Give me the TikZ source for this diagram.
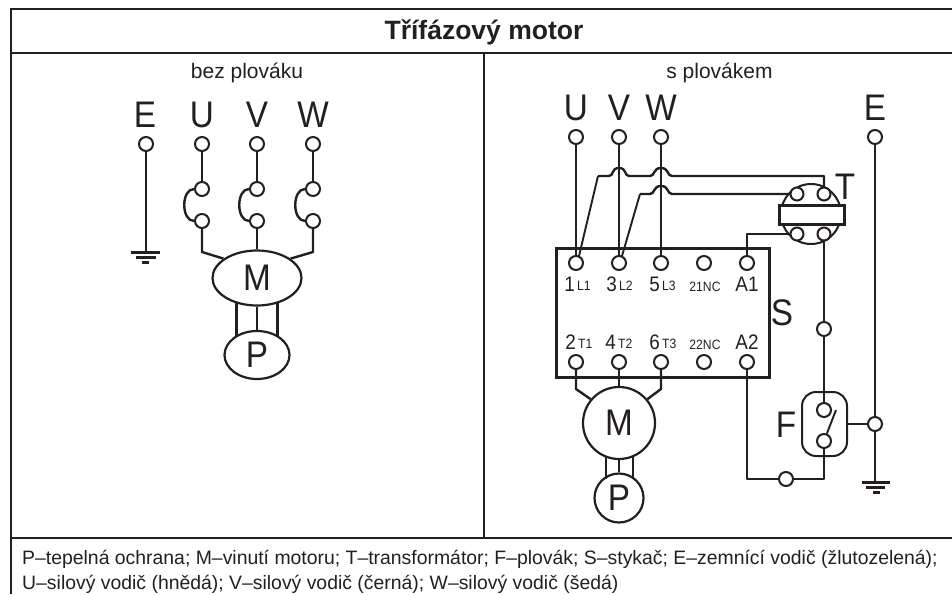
\documentclass[tikz,border=0pt]{standalone}
\usepackage{fontspec}
\setmainfont{Liberation Sans}
\newfontfamily\narrowfont[FakeStretch=0.9]{Liberation Sans}
\usetikzlibrary{shapes.geometric}
\usetikzlibrary{positioning}
\definecolor{ink}{HTML}{231F20}
\tikzset{
    wire/.style={draw=ink,line width=2.4pt,line join=round},
    thin wire/.style={draw=ink,line width=1.9pt,line join=round},
    frame/.style={draw=ink,line width=2.2pt},
    terminal/.style={circle,draw=ink,fill=white,line width=2pt,minimum size=14pt,inner sep=0pt},
    big/.style={text=ink,inner sep=0pt,font=\narrowfont\fontsize{37}{37}\selectfont},
    digit/.style={text=ink,inner sep=0pt,font=\narrowfont\fontsize{21}{21}\selectfont},
    small/.style={text=ink,inner sep=0pt,font=\narrowfont\fontsize{13.5}{13.5}\selectfont},
    motor/.style={draw=ink,line width=2.2pt,fill=white,inner sep=0pt,text=ink,font=\narrowfont\fontsize{37}{37}\selectfont},
}
\begin{document}
\begin{tikzpicture}[x=1pt,y=-1pt]
    \useasboundingbox (0,0) rectangle (952,594);
    % frame
    \coordinate (tl) at (11,9);
    \coordinate (tr) at (952,9);
    \coordinate (bl) at (11,594);
    \draw[frame] (bl) -- (tl) -- (tr);
    \draw[frame] (11,53) -- (952,53);
    \draw[frame] (11,538) -- (952,538);
    \draw[frame] (484,53) -- (484,538);
    \node[text=ink,font=\fontsize{26.5}{26.5}\selectfont\bfseries] (title) at (484,32) {Třífázový motor};
    \node[text=ink,font=\fontsize{21}{21}\selectfont] (leftcap) at (247,73) {bez plováku};
    \node[text=ink,font=\fontsize{21}{21}\selectfont] (rightcap) at (719.5,73) {s plovákem};
    \node[text=ink,anchor=west,align=left,inner sep=0pt,font=\fontsize{19.4}{25}\selectfont] (legend) at (22,572)
        {P–tepelná ochrana; M–vinutí motoru; T–transformátor; F–plovák; S–stykač; E–zemnící vodič (žlutozelená);\\
         U–silový vodič (hnědá); V–silový vodič (černá); W–silový vodič (šedá)};

    % bez plovaku
    \node[big] (le) at (145,115) {E};
    \node[terminal] (lea) at (146,144) {};
    \coordinate (lgnd) at (146,252);
    \draw[wire] (lea) -- (lgnd);
    \draw[wire,line width=3pt] (131,252) -- (160,252);
    \draw[wire,line width=3pt] (136,257.5) -- (156,257.5);
    \draw[wire,line width=3pt] (142,262.5) -- (149,262.5);
    \node[motor,ellipse,minimum width=89pt,minimum height=55pt] (lm) at (257,278) {M};
    \node[motor,ellipse,minimum width=65pt,minimum height=48pt] (lp) at (257,355) {P};
    \foreach \n/\l/\x in {u/U/202,v/V/257,w/W/313}{
        \node[big] (l\n) at (\x,115) {\l};
        \node[terminal] (l\n a) at (\x,144) {};
        \node[terminal] (l\n b) at (\x,189) {};
        \node[terminal] (l\n c) at (\x,221) {};
        \draw[wire] (l\n a) -- (l\n b);
        \draw[wire] (l\n b.west) .. controls +(-13,0) and +(-13,0) .. (l\n c.west);
    }
    \coordinate (lbu) at (202,252);
    \coordinate (lbw) at (313,252);
    \draw[wire] (luc) -- (lbu) -- (lm.150);
    \draw[wire] (lvc) -- (lm.north);
    \draw[wire] (lwc) -- (lbw) -- (lm.30);
    \draw[wire] (lm.south) -- (lp.north);
    \draw[wire,line width=3pt] (236,302) -- (236,337);
    \draw[wire,line width=3pt] (277,302) -- (277,337);

    % s plovakem
    \draw[frame,line width=3pt] (556,248) rectangle (769,377);
    \node[big] (re) at (875,108) {E};
    \node[terminal] (rea) at (875,137) {};
    \node[terminal] (rej) at (875,424) {};
    \coordinate (rgnd) at (875,482);
    \draw[wire] (rea) -- (rej) -- (rgnd);
    \draw[wire,line width=3pt] (862,482) -- (890,482);
    \draw[wire,line width=3pt] (866,487.5) -- (885,487.5);
    \draw[wire,line width=3pt] (873,492.5) -- (880,492.5);
    \foreach \n/\l/\x in {u/U/576,v/V/619,w/W/661}{
        \node[big] (r\n) at (\x,108) {\l};
        \node[terminal] (r\n a) at (\x,137) {};
        \node[terminal] (r\n b) at (\x,263) {};
        \node[terminal] (r\n c) at (\x,362) {};
        \draw[wire] (r\n a) -- (r\n b);
    }
    \node[terminal] (ncb) at (704,263) {};
    \node[terminal] (ncc) at (704,362) {};
    \node[terminal] (aa) at (747,263) {};
    \node[terminal] (ab) at (747,362) {};
    \node[digit,anchor=east] at (575,284) {1};
    \node[small,anchor=west] at (577,286) {L1};
    \node[digit,anchor=east] at (617,284) {3};
    \node[small,anchor=west] at (619,286) {L2};
    \node[digit,anchor=east] at (660,284) {5};
    \node[small,anchor=west] at (662,286) {L3};
    \node[small] at (705,287) {21NC};
    \node[digit] at (747,284) {A1};
    \node[digit,anchor=east] at (576,342) {2};
    \node[small,anchor=west] at (578,344) {T1};
    \node[digit,anchor=east] at (616,342) {4};
    \node[small,anchor=west] at (618,344) {T2};
    \node[digit,anchor=east] at (660,342) {6};
    \node[small,anchor=west] at (662,344) {T3};
    \node[small] at (705,345) {22NC};
    \node[digit] at (747,342) {A2};
    \node[big] (sl) at (782,313) {S};

    % transformator
    \node[circle,draw=ink,line width=2pt,minimum size=60pt,inner sep=0pt] (tc) at (811,214) {};
    \draw[frame,fill=white,line width=3pt] (779,205) rectangle (844,224);
    \node[terminal,minimum size=13pt] (ta) at (797,194) {};
    \node[terminal,minimum size=13pt] (tb) at (824,194) {};
    \node[terminal,minimum size=13pt] (tcc) at (797,234) {};
    \node[terminal,minimum size=13pt] (td) at (824,234) {};
    \node[big] (tl2) at (845,187) {T};
    \coordinate (tup) at (824,176);
    \coordinate (ain) at (598,176);
    \coordinate (bin) at (640,194);
    \coordinate (aend) at (579,256);
    \coordinate (bend) at (622,256);
    \draw[wire] (tb) -- (tup) -- (672,176)
        .. controls (667,176) and (669,168) .. (661,168)
        .. controls (653,168) and (655,176) .. (650,176)
        -- (629,176)
        .. controls (624,176) and (627,168) .. (619,168)
        .. controls (611,168) and (614,176) .. (609,176)
        -- (ain);
    \draw[thin wire] (ain) -- (aend);
    \draw[wire] (ta) -- (672,194)
        .. controls (667,194) and (669,186) .. (661,186)
        .. controls (653,186) and (655,194) .. (650,194)
        -- (bin);
    \draw[thin wire] (bin) -- (bend);
    \coordinate (abend) at (747,234);
    \draw[wire] (aa) -- (abend) -- (tcc);

    % plovak
    \node[terminal] (fm) at (824,329) {};
    \node[draw=ink,line width=2pt,rounded corners=14pt,minimum width=45pt,minimum height=64pt,inner sep=0pt] (fbox) at (824.5,424) {};
    \node[terminal] (fa) at (824,410) {};
    \node[terminal] (fb) at (824,441) {};
    \node[big] (fl) at (786,425) {F};
    \coordinate (blade) at (836,410);
    \draw[thin wire] (fb) -- (blade);
    \draw[wire] (td) -- (fm) -- (fa);
    \node[terminal] (fo) at (786,479) {};
    \coordinate (fbr) at (824,479);
    \coordinate (fbl) at (747,479);
    \draw[wire] (fb) -- (fbr) -- (fo) -- (fbl) -- (ab);
    \draw[wire] (fbox.east) -- (rej);

    % motor
    \node[motor,circle,minimum size=72pt] (rm) at (619,423) {M};
    \node[motor,circle,minimum size=49pt] (rp) at (619,498) {P};
    \coordinate (rbu) at (576,389);
    \coordinate (rbw) at (661,389);
    \draw[wire] (ruc) -- (rbu) -- (rm.140);
    \draw[wire] (rvc) -- (rm.north);
    \draw[wire] (rwc) -- (rbw) -- (rm.40);
    \draw[wire] (rm.south) -- (rp.north);
    \draw[wire] (606,457) -- (606,479);
    \draw[wire] (633,457) -- (633,479);
\end{tikzpicture}
\end{document}
